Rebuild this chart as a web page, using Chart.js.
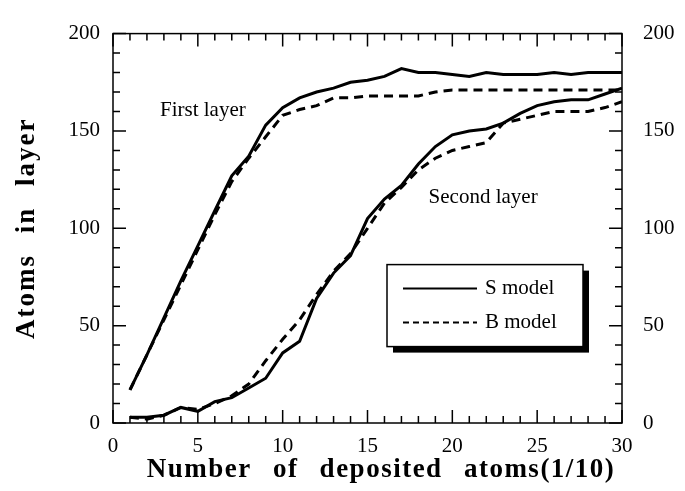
<!DOCTYPE html>
<html>
<head>
<meta charset="utf-8">
<script src="https://cdn.jsdelivr.net/npm/chart.js@4.4.1/dist/chart.umd.min.js"></script>
<style>
  html, body { margin: 0; padding: 0; background: #fff; }
  #wrap { width: 685px; height: 491px; }
</style>
</head>
<body>
<div id="wrap"><canvas id="chart" width="685" height="491"></canvas></div>
<script>
// number of deposited atoms (1/10)
const xValues = [1, 2, 3, 4, 5, 6, 7, 8, 9, 10, 11, 12, 13, 14, 15,
                 16, 17, 18, 19, 20, 21, 22, 23, 24, 25, 26, 27, 28, 29, 30];
// first layer
const sFirst = [17, 35, 54, 73, 91, 109, 127, 137, 153, 162, 167, 170, 172, 175, 176,
                178, 182, 180, 180, 179, 178, 180, 179, 179, 179, 180, 179, 180, 180, 180];
const bFirst = [17, 35, 53, 71, 89, 107, 124, 136, 147, 158, 161, 163, 167, 167, 168,
                168, 168, 168, 170, 171, 171, 171, 171, 171, 171, 171, 171, 171, 171, 171];
// second layer
const sSecond = [3, 3, 4, 8, 6, 11, 13, 18, 23, 36, 42, 64, 77, 86, 105,
                 115, 122, 133, 142, 148, 150, 151, 154, 159, 163, 165, 166, 166, 169, 172];
const bSecond = [3, 2, 4, 8, 7, 10, 14, 20, 32, 43, 53, 66, 78, 87, 100,
                 113, 121, 130, 136, 140, 142, 144, 154, 156, 158, 160, 160, 160, 162, 165];

const legendLabels = ['S model', 'B model'];
const xTitle = 'Number of deposited atoms(1/10)';
const yTitle = 'Atoms in layer';

const SERIF = "'Liberation Serif', 'DejaVu Serif', serif";
const DASH = [9, 6];

Chart.defaults.font.family = SERIF;
Chart.defaults.font.size = 21;
Chart.defaults.color = '#000';

const pts = ys => xValues.map((x, i) => ({ x: x, y: ys[i] }));
const solid = ys => ({ data: pts(ys), borderColor: '#000', borderWidth: 3, pointRadius: 0, tension: 0 });
const dashed = ys => ({ data: pts(ys), borderColor: '#000', borderWidth: 3, borderDash: DASH, pointRadius: 0, tension: 0 });

// inward ticks on all four sides, frame, labels and legend box
const decorations = {
  id: 'decorations',
  afterDatasetsDraw(chart) {
    const { ctx, chartArea: a, scales: { x, y } } = chart;
    ctx.save();
    ctx.strokeStyle = '#000';
    ctx.lineWidth = 1.5;
    ctx.strokeRect(a.left, a.top, a.right - a.left, a.bottom - a.top);
    ctx.beginPath();
    for (let v = x.min; v <= x.max; v++) {
      const px = x.getPixelForValue(v);
      const len = v % 5 === 0 ? 13 : 7;
      ctx.moveTo(px, a.bottom); ctx.lineTo(px, a.bottom - len);
      ctx.moveTo(px, a.top); ctx.lineTo(px, a.top + len);
    }
    for (let v = y.min; v <= y.max; v += 10) {
      const py = y.getPixelForValue(v);
      const len = v % 50 === 0 ? 13 : 7;
      ctx.moveTo(a.left, py); ctx.lineTo(a.left + len, py);
      ctx.moveTo(a.right, py); ctx.lineTo(a.right - len, py);
    }
    ctx.stroke();

    // curve labels
    ctx.fillStyle = '#000';
    ctx.font = '21px ' + SERIF;
    ctx.textBaseline = 'middle';
    ctx.textAlign = 'left';
    ctx.fillText('First layer', x.getPixelForValue(2.77), y.getPixelForValue(160.5));
    ctx.fillText('Second layer', x.getPixelForValue(18.6), y.getPixelForValue(116));

    // legend with drop shadow
    const lx = a.left + 274, ly = a.top + 231, lw = 196, lh = 82;
    ctx.fillRect(lx + 6, ly + 6, lw, lh);
    ctx.fillStyle = '#fff';
    ctx.fillRect(lx, ly, lw, lh);
    ctx.strokeRect(lx, ly, lw, lh);
    ctx.fillStyle = '#000';
    ctx.lineWidth = 2;
    legendLabels.forEach((lab, i) => {
      const ry = ly + 24 + i * 34;
      ctx.setLineDash(i === 0 ? [] : [6, 4]);
      ctx.beginPath();
      ctx.moveTo(lx + 16, ry); ctx.lineTo(lx + 90, ry);
      ctx.stroke();
      ctx.setLineDash([]);
      ctx.fillText(lab, lx + 98, ry);
    });

    // axis titles
    ctx.font = 'bold 27px ' + SERIF;
    ctx.textAlign = 'center';
    ctx.letterSpacing = '1.5px';
    ctx.wordSpacing = '13px';
    ctx.fillText(xTitle, 381, 470);
    ctx.translate(27, (a.top + a.bottom) / 2);
    ctx.rotate(-Math.PI / 2);
    ctx.font = 'bold 27px ' + SERIF;
    ctx.letterSpacing = '2px';
    ctx.wordSpacing = '12px';
    ctx.fillText(yTitle, 0, 0);
    ctx.restore();
  }
};

const tickFont = { family: SERIF, size: 21 };

new Chart(document.getElementById('chart'), {
  type: 'line',
  data: {
    datasets: [solid(sFirst), dashed(bFirst), solid(sSecond), dashed(bSecond)]
  },
  options: {
    responsive: false,
    animation: false,
    devicePixelRatio: 1,
    layout: { padding: { top: 24, left: 0, right: 0, bottom: 0 } },
    plugins: { legend: { display: false }, tooltip: { enabled: false } },
    scales: {
      x: {
        type: 'linear', min: 0, max: 30,
        grid: { display: false, drawTicks: false },
        border: { display: false },
        ticks: { stepSize: 5, color: '#000', font: tickFont, padding: 11, maxRotation: 0 },
        afterFit(s) { s.height = 68; }
      },
      y: {
        min: 0, max: 200, position: 'left',
        grid: { display: false, drawTicks: false },
        border: { display: false },
        ticks: { stepSize: 50, color: '#000', font: tickFont, padding: 13 },
        afterFit(s) { s.width = 113; }
      },
      y2: {
        min: 0, max: 200, position: 'right',
        grid: { display: false, drawTicks: false },
        border: { display: false },
        ticks: { stepSize: 50, color: '#000', font: tickFont, padding: 21 },
        afterFit(s) { s.width = 63; }
      }
    }
  },
  plugins: [decorations]
});
</script>
</body>
</html>
